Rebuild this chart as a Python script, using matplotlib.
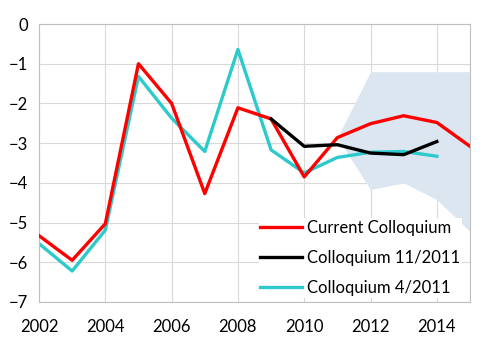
import numpy as np
import matplotlib.pyplot as plt

plt.rcParams['font.family'] = ['Lato', 'DejaVu Sans']

years = np.arange(2002, 2016)
current = [-5.33, -5.95, -5.03, -1.0, -2.0, -4.27, -2.11, -2.39, -3.85, -2.86, -2.51, -2.31, -2.48, -3.08]

years_nov = np.arange(2009, 2015)
nov_2011 = [-2.39, -3.08, -3.04, -3.25, -3.29, -2.96]

years_apr = np.arange(2002, 2015)
apr_2011 = [-5.53, -6.22, -5.19, -1.32, -2.37, -3.21, -0.64, -3.17, -3.75, -3.36, -3.23, -3.21, -3.33]

# uncertainty band
band_years = np.arange(2011, 2016)
band_upper = [-2.86, -1.2, -1.2, -1.2, -1.2]
band_lower = [-2.86, -4.17, -4.0, -4.42, -5.23]

fig = plt.figure(figsize=(5, 3.53), dpi=100)
ax = fig.add_axes([0.078, 0.1445, 0.862, 0.7875])

ax.fill_between(band_years, band_lower, band_upper, color='#dce6f1', lw=0, zorder=1)
ax.plot(years, current, color='#ff0000', lw=2.4, label='Current Colloquium', zorder=3)
ax.plot(years_nov, nov_2011, color='#000000', lw=2.4, label='Colloquium 11/2011', zorder=3)
ax.plot(years_apr, apr_2011, color='#2ecacb', lw=2.4, label='Colloquium 4/2011', zorder=2)

ax.set_xlim(2002, 2015)
ax.set_ylim(-7, 0)
ax.set_xticks(np.arange(2002, 2015, 2))
ax.set_yticks(np.arange(-7, 1, 1))
ax.grid(True, color='#d9d9d9', lw=0.8, zorder=0)
ax.set_axisbelow(True)
for s in ax.spines.values():
    s.set_color('#bfbfbf')
ax.tick_params(length=0, labelsize=12, pad=8)
ax.tick_params(axis='x', pad=12)

leg = ax.legend(loc='lower right', bbox_to_anchor=(0.985, 0.01), fontsize=12, frameon=True,
                handlelength=2.5, labelspacing=0.85, borderaxespad=0.1, handletextpad=0.3,
                borderpad=0.1, fancybox=False)
leg.get_frame().set_edgecolor('none')
leg.get_frame().set_facecolor('white')
leg.get_frame().set_alpha(1)

fig.savefig('out.png', dpi=100)
